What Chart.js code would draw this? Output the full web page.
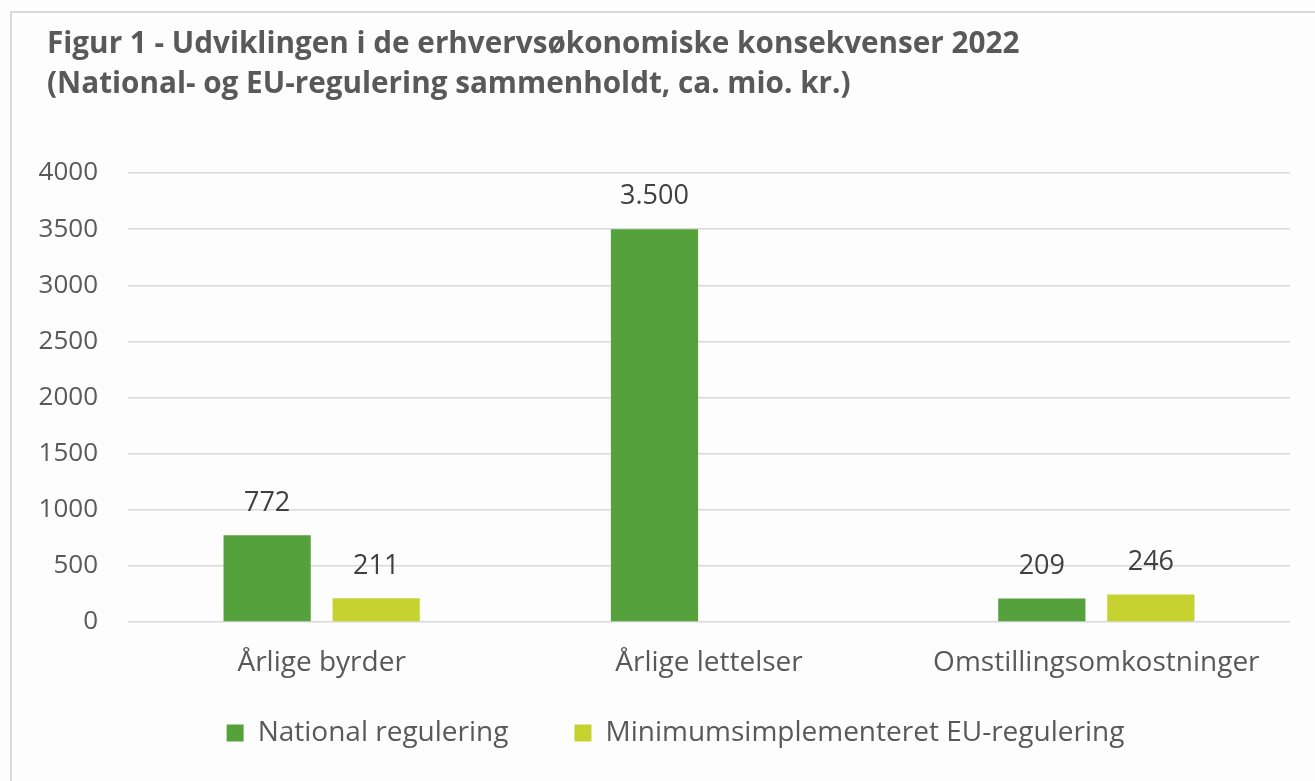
<!DOCTYPE html>
<html>
<head>
<meta charset="utf-8">
<script src="https://cdn.jsdelivr.net/npm/chart.js@4.4.1/dist/chart.umd.min.js"></script>
<style>
  html, body { margin: 0; padding: 0; background: #fdfdfd; overflow: hidden; }
  #frame { position: absolute; left: 10px; top: 11px; width: 1400px; height: 900px;
           border-left: 2px solid #d9d9d9; border-top: 2px solid #d9d9d9; }
  #wrap { position: absolute; left: 0; top: 0; width: 1315px; height: 781px; }
</style>
</head>
<body>
<div id="frame"></div>
<div id="wrap"><canvas id="chart"></canvas></div>
<script>
const categories = ['Årlige byrder', 'Årlige lettelser', 'Omstillingsomkostninger'];
const nationalValues = [772, 3500, 209];
const euValues = [211, null, 246];
const seriesNames = ['National regulering', 'Minimumsimplementeret EU-regulering'];
const yTicks = [0, 500, 1000, 1500, 2000, 2500, 3000, 3500, 4000];
const titleLines = [
    'Figur 1 - Udviklingen i de erhvervsøkonomiske konsekvenser 2022',
    '(National- og EU-regulering sammenholdt, ca. mio. kr.)'
];

const FONT = "'Open Sans', sans-serif";
const TEXT = '#595959';
const LEGEND_GAP = 66;   // horizontal gap between legend items
const LEGEND_H = 50;

// danish thousands separator
function fmt(v) {
    return String(v).replace(/\B(?=(\d{3})+(?!\d))/g, '.');
}

const valueLabels = {
    id: 'valueLabels',
    afterDatasetsDraw(chart) {
        const c = chart.ctx;
        c.save();
        c.font = '27px ' + FONT;
        c.fillStyle = '#404040';
        c.textAlign = 'center';
        c.textBaseline = 'bottom';
        chart.data.datasets.forEach((ds, i) => {
            chart.getDatasetMeta(i).data.forEach((bar, j) => {
                if (ds.data[j] == null) return;
                c.fillText(fmt(ds.data[j]), bar.x, bar.y - 19);
            });
        });
        c.restore();
    }
};

// legend padding is used both between items and above them;
// keep the wide item gap but not the tall box
const tweakBoxes = {
    id: 'tweakBoxes',
    beforeLayout(chart) {
        const lg = chart.legend;
        if (lg && !lg._wrapped) {
            const fit = lg.fit;
            lg.fit = function () { fit.call(this); this.height = LEGEND_H; };
            lg._wrapped = true;
        }
    },
    afterLayout(chart) {
        if (chart.titleBlock) chart.titleBlock.left = 47;
        const lg = chart.legend;
        if (lg) {
            lg.top -= LEGEND_GAP - 10;
            lg.left += 18;
            lg.right += 18;
        }
    }
};

new Chart(document.getElementById('chart'), {
    type: 'bar',
    data: {
        labels: categories,
        datasets: [
            { label: seriesNames[0], data: nationalValues, backgroundColor: '#55A23C' },
            { label: seriesNames[1], data: euValues, backgroundColor: '#C5D230' }
        ]
    },
    options: {
        responsive: true,
        maintainAspectRatio: false,
        animation: false,
        datasets: { bar: { categoryPercentage: 0.563, barPercentage: 0.8 } },
        layout: { padding: { left: 25, right: 25, top: 0, bottom: 22 } },
        scales: {
            y: {
                min: 0,
                max: 4000,
                afterBuildTicks(scale) { scale.ticks = yTicks.map(v => ({ value: v })); },
                afterFit(scale) { scale.width = 103; },
                ticks: { color: TEXT, font: { family: FONT, size: 26 }, padding: 30,
                         callback: v => String(v) },
                grid: { color: '#d9d9d9', lineWidth: 1.5, drawTicks: false },
                border: { display: false }
            },
            x: {
                afterFit(scale) { scale.height = 87; },
                ticks: { color: TEXT, font: { family: FONT, size: 28 }, padding: 16 },
                grid: { display: false },
                border: { display: false }
            }
        },
        plugins: {
            title: {
                display: true,
                text: titleLines,
                align: 'start',
                color: TEXT,
                font: { family: FONT, size: 29.7, weight: 'bold', lineHeight: '40px' },
                padding: { top: 25, bottom: 68 }
            },
            legend: {
                position: 'bottom',
                labels: {
                    color: TEXT,
                    font: { family: FONT, size: 28 },
                    boxWidth: 17,
                    boxHeight: 17,
                    padding: LEGEND_GAP
                }
            },
            tooltip: { enabled: false }
        }
    },
    plugins: [valueLabels, tweakBoxes]
});
</script>
</body>
</html>
